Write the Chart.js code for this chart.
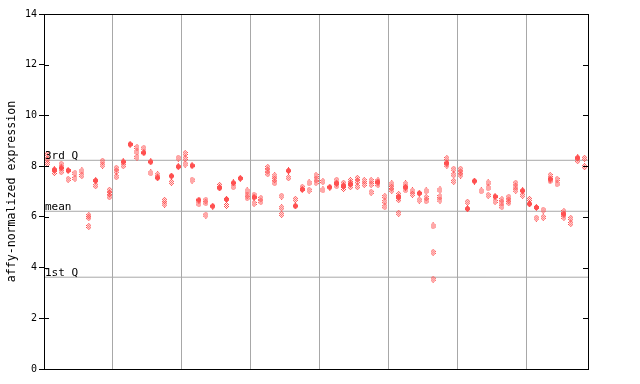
<!DOCTYPE html>
<html>
<head>
<meta charset="utf-8">
<script src="https://cdn.jsdelivr.net/npm/chart.js@4/dist/chart.umd.min.js"></script>
<style>
html,body{margin:0;padding:0;background:#fff;}
#wrap{width:640px;height:384px;}
</style>
</head>
<body>
<div id="wrap"><canvas id="c" width="640" height="384"></canvas></div>
<script>
// ---- data ----
const sampleCount = 79;
const yTicks = [0, 2, 4, 6, 8, 10, 12, 14];
const refLabels = ['3rd Q', 'mean', '1st Q'];
const refValues = [8.23, 6.22, 3.62];
const yAxisTitle = 'affy-normalized expression';

const solidValues = [
  null, 7.86, 7.93, 7.83, null, null, null, 7.43, null, null,
  null, 8.17, 8.86, null, 8.53, 8.17, 7.54, null, 7.61, 7.98,
  null, 8.02, 6.66, null, 6.42, 7.14, 6.69, 7.34, 7.52, null,
  6.77, null, null, null, null, 7.82, 6.43, 7.08, null, null,
  null, 7.17, 7.32, 7.22, 7.30, null, null, null, 7.37, null,
  null, 6.78, 7.17, null, 6.93, null, null, null, 8.12, null,
  null, 6.32, 7.41, null, null, 6.80, null, null, null, 7.03,
  6.51, 6.37, null, 7.49, null, 6.11, null, 8.33, null
];

const hatchedValues = [
  [8.47, 8.28, 8.11], [7.75], [8.08, 7.78], [7.48], [7.72, 7.52],
  [7.81, 7.63], [6.05, 5.97, 5.62], [7.23], [8.20, 8.04], [7.05, 6.92, 6.79],
  [7.92, 7.80, 7.58], [8.02], [], [8.74, 8.56, 8.35], [8.71],
  [7.73], [7.66], [6.65, 6.50], [7.36], [8.32],
  [8.50, 8.30, 8.08], [7.45], [6.51], [6.66, 6.55, 6.07], [],
  [7.24], [6.45], [7.18], [], [7.02, 6.86, 6.75],
  [6.86, 6.53], [6.73, 6.60], [7.95, 7.82, 7.70], [7.62, 7.48, 7.34], [6.82, 6.36, 6.10],
  [7.54], [6.69], [7.17], [7.34, 7.05], [7.63, 7.48, 7.35],
  [7.39, 7.06], [], [7.45, 7.22], [7.33, 7.12], [7.43, 7.19],
  [7.52, 7.39, 7.19], [7.43, 7.28], [7.43, 7.28, 6.97], [7.42, 7.27], [6.80, 6.60, 6.40],
  [7.30, 7.16, 7.05], [6.88, 6.68, 6.14], [7.30, 7.06], [7.02, 6.89], [6.66],
  [7.02, 6.76, 6.63], [5.64, 4.60, 3.54], [7.06, 6.80, 6.66], [8.30, 8.04], [7.88, 7.66, 7.40],
  [7.88, 7.76, 7.65], [6.58], [], [7.02], [7.34, 7.14, 6.85],
  [6.61], [6.68, 6.55, 6.40], [6.78, 6.66, 6.56], [7.33, 7.18, 7.05], [6.85],
  [6.69], [5.95], [6.27, 5.98], [7.63, 7.42], [7.48, 7.30],
  [6.21, 5.98], [5.94, 5.74], [8.22], [8.31, 7.98]
];

// ---- styles ----
const RED = '#ff5050';
const GRID = '#a8a8a8';
const FONT = 'DejaVu Sans Mono';

function makeMarker(mask) {
  const c = document.createElement('canvas');
  c.width = mask[0].length; c.height = mask.length;
  const g = c.getContext('2d');
  g.fillStyle = RED;
  mask.forEach((row, y) => { for (let x = 0; x < row.length; x++) if (row[x] === 'X') g.fillRect(x, y, 1, 1); });
  return c;
}
const solidMarker = makeMarker(['..X..', '.XXX.', 'XXXXX', 'XXXXX', 'XXXXX', '.XXX.', '..X..']);
const hatchMarker = makeMarker(['..X..', '.X.X.', 'X.X.X', '.X.X.', 'X.X.X', '.X.X.', '..X..']);

// ---- build datasets from arrays ----
const solidPts = [];
solidValues.forEach((v, i) => { if (v !== null) solidPts.push({ x: i + 0.5, y: v }); });
const hatchPts = [];
hatchedValues.forEach((arr, i) => arr.forEach(v => hatchPts.push({ x: i + 0.5, y: v })));

const refDatasets = refValues.map(v => ({
  type: 'line',
  data: [{ x: 0, y: v }, { x: sampleCount, y: v }],
  borderColor: GRID, borderWidth: 1, pointRadius: 0, fill: false
}));

const overlay = {
  id: 'overlay',
  afterDatasetsDraw(chart) {
    const { ctx, chartArea: a, scales: { y } } = chart;
    ctx.save();
    // inner ticks on both sides
    ctx.strokeStyle = '#000'; ctx.lineWidth = 1;
    yTicks.forEach(t => {
      const py = Math.round(y.getPixelForValue(t)) + 0.5;
      ctx.beginPath();
      ctx.moveTo(a.left, py); ctx.lineTo(a.left + 5, py);
      ctx.moveTo(a.right - 5, py); ctx.lineTo(a.right, py);
      ctx.stroke();
    });
    // reference line labels
    ctx.fillStyle = '#000';
    ctx.font = '11px "' + FONT + '"';
    ctx.textBaseline = 'alphabetic';
    ctx.textAlign = 'left';
    refLabels.forEach((lab, k) => {
      const py = Math.round(y.getPixelForValue(refValues[k]));
      ctx.fillText(lab, a.left + 1, py - 1);
    });
    // frame
    ctx.strokeStyle = '#000';
    ctx.strokeRect(Math.round(a.left) + 0.5, Math.round(a.top) + 0.5, Math.round(a.right - a.left), Math.round(a.bottom - a.top));
    ctx.restore();
  }
};

new Chart(document.getElementById('c'), {
  type: 'scatter',
  data: {
    datasets: [
      { data: solidPts, pointStyle: solidMarker, pointRadius: 3, borderWidth: 0 },
      { data: hatchPts, pointStyle: hatchMarker, pointRadius: 3, borderWidth: 0 },
      ...refDatasets
    ]
  },
  options: {
    responsive: false,
    animation: false,
    events: [],
    layout: { padding: { left: 0, right: 52, top: 14, bottom: 0 } },
    plugins: { legend: { display: false }, tooltip: { enabled: false } },
    scales: {
      x: {
        type: 'linear', min: 0, max: sampleCount,
        ticks: { display: false, stepSize: 10 },
        grid: { color: GRID, lineWidth: 1, drawTicks: false },
        border: { display: false },
        afterFit: s => { s.height = 15; }
      },
      y: {
        min: 0, max: 14,
        afterBuildTicks: s => { s.ticks = yTicks.map(v => ({ value: v })); },
        ticks: { color: '#000', padding: 2, font: { family: FONT, size: 10 } },
        grid: { drawOnChartArea: false, color: '#000', tickLength: 5 },
        border: { display: true, color: '#000' },
        title: { display: true, text: yAxisTitle, color: '#000', padding: { top: 5, bottom: 0 }, font: { family: FONT, size: 11.6 } },
        afterFit: s => { s.width = 44; }
      }
    }
  },
  plugins: [overlay]
});
</script>
</body>
</html>
